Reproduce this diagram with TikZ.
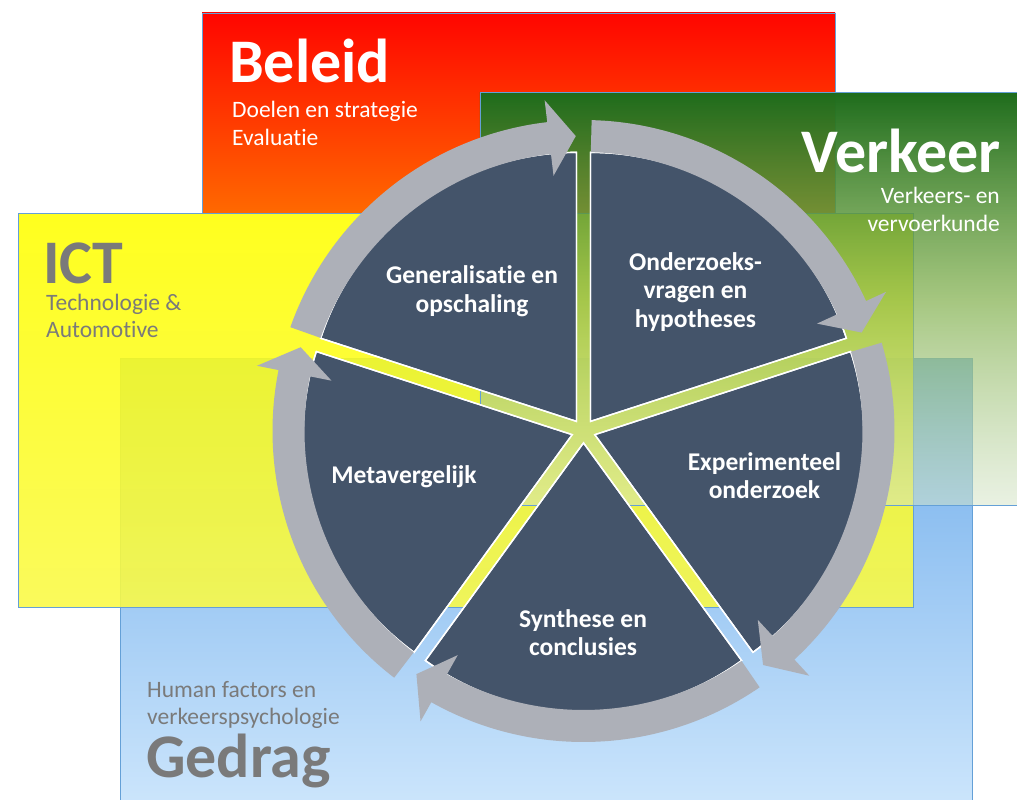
\documentclass[tikz,border=0pt]{standalone}
\usepackage{fontspec}
\setmainfont{Carlito}[Ligatures={NoCommon,NoDiscretionary,NoContextual}]
\usetikzlibrary{fadings}
\definecolor{redtop}{RGB}{255,5,0}
\definecolor{redbot}{RGB}{255,105,0}
\definecolor{bluetop}{RGB}{110,172,235}
\definecolor{bluebot}{RGB}{205,230,252}
\definecolor{yeltop}{RGB}{255,255,0}
\definecolor{yelbot}{RGB}{250,250,70}
\definecolor{grtop}{RGB}{30,108,28}
\definecolor{grmid}{RGB}{135,180,85}
\definecolor{grbot}{RGB}{212,228,198}
\definecolor{boxline}{RGB}{100,160,215}
\definecolor{pie}{RGB}{68,84,106}
\definecolor{arrowgray}{RGB}{173,176,184}
\definecolor{txtgray}{RGB}{122,122,122}
\tikzfading[name=gfade, top color=transparent!0, bottom color=transparent!50]
\begin{document}
\begin{tikzpicture}[x=1pt,y=1pt,
  box/.style={draw=boxline, line width=0.9pt},
  wedge/.style={fill=pie, draw=white, line width=1.4pt, line join=miter},
  cyc/.style={fill=arrowgray},
  seglabel/.style={text=white, font=\fontsize{25.5}{28.5}\selectfont\bfseries, inner sep=0pt, anchor=base},
  bigtitle/.style={font=\fontsize{62}{62}\selectfont\bfseries, inner sep=0pt},
  subtext/.style={font=\fontsize{23.5}{28}\selectfont, inner sep=0pt}]
\useasboundingbox (0,0) rectangle (1017,-800);
\fill[white] (0,0) rectangle (1017,-800);
% Beleid (red)
\shade[top color=redtop, bottom color=redbot] (202,-13) rectangle (835,-213);
\draw[box] (202,-13) rectangle (835,-213);
% Gedrag (blue)
\shade[top color=bluetop, bottom color=bluebot] (120,-358) rectangle (972,-812);
\draw[box] (120,-358) rectangle (972,-812);
% ICT (yellow)
\shade[top color=yeltop, bottom color=yelbot, fill opacity=0.88] (18,-213) rectangle (913,-607);
\draw[box] (18,-213) rectangle (913,-607);
% Verkeer (green)
\shade[top color=grtop, bottom color=grbot, middle color=grmid, path fading=gfade] (480,-92) rectangle (1030,-505);
\draw[box] (480,-92) rectangle (1030,-505);

% area texts
\node[bigtitle, text=white, anchor=base west] (beleid) at (229,-82) {Beleid};
\node[subtext, text=white, anchor=base west] (beleid1) at (232,-117) {Doelen en strategie};
\node[subtext, text=white, anchor=base west] (beleid2) at (232,-145) {Evaluat\kern0pt ie};
\node[bigtitle, text=white, anchor=base east] (verkeer) at (1001,-172) {Verkeer};
\node[subtext, text=white, anchor=base east] (verkeer1) at (1000,-203) {Verkeers- en};
\node[subtext, text=white, anchor=base east] (verkeer2) at (1000,-231) {vervoerkunde};
\node[bigtitle, text=txtgray, anchor=base west] (ict) at (43,-283) {ICT};
\node[subtext, text=txtgray, anchor=base west] (ict1) at (46,-310) {Technologie \&};
\node[subtext, text=txtgray, anchor=base west] (ict2) at (46,-337) {Automotive};
\node[subtext, text=txtgray, anchor=base west] (gedrag1) at (147,-697) {Human factors en};
\node[subtext, text=txtgray, anchor=base west] (gedrag2) at (147,-724) {verkeerspsychologie};
\node[bigtitle, text=txtgray, anchor=base west] (gedrag) at (146,-777) {Gedrag};

% cycle
\begin{scope}[shift={(583.5,-431)}]
  \foreach \a in {90,18,-54,-126,-198} {
    \pgfmathsetmacro\b{\a-36}
    \pgfmathsetmacro\e{\a-72}
    \fill[wedge, shift={(\b:11.9)}] (0,0) -- (\a:269) arc[start angle=\a, end angle=\e, radius=269] -- cycle;
    \draw[wedge, fill=none, shift={(\b:11.9)}] (0,0) -- (\a:269) arc[start angle=\a, end angle=\e, radius=269] -- cycle;
  }
  \foreach \a in {90,18,-54,-126,-198} {
    \pgfmathsetmacro\s{\a-1.5}
    \pgfmathsetmacro\t{\a-72+1.5}
    \pgfmathsetmacro\h{\t+5.2}
    \fill[cyc] (\s:311) arc[start angle=\s, end angle=\h, radius=311] -- (\h:333) -- (\t:295) -- (\h:257) -- (\h:279) arc[start angle=\h, end angle=\s, radius=279] -- cycle;
  }
\end{scope}

% segment labels
\node[seglabel] (s1a) at (695.5,-270) {Onderzoeks-};
\node[seglabel] (s1b) at (695.5,-298.5) {vragen en};
\node[seglabel] (s1c) at (695.5,-327) {hypotheses};
\node[seglabel] (s2a) at (764.5,-470) {Experimenteel};
\node[seglabel] (s2b) at (764.5,-498) {onderzoek};
\node[seglabel] (s3a) at (583,-627) {Synthese en};
\node[seglabel] (s3b) at (583,-655) {conclusies};
\node[seglabel] (s4a) at (404,-483) {Metavergelijk};
\node[seglabel] (s5a) at (472,-283) {Generalisat\kern0pt ie en};
\node[seglabel] (s5b) at (472,-312) {opschaling};
\end{tikzpicture}
\end{document}
